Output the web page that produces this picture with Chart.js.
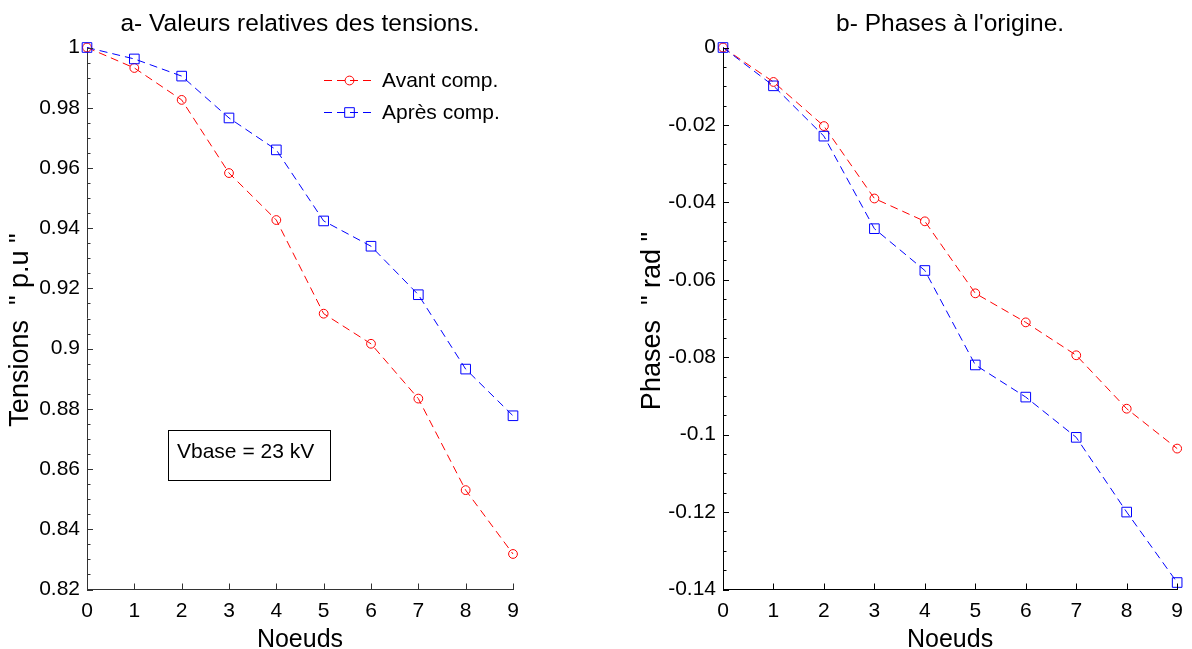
<!DOCTYPE html>
<html>
<head>
<meta charset="utf-8">
<script src="https://cdn.jsdelivr.net/npm/chart.js@4.4.1/dist/chart.umd.min.js"></script>
<style>
  html, body { margin: 0; padding: 0; background: #fff; }
  .wrap { position: absolute; top: 0; width: 596px; height: 649px; }
</style>
</head>
<body>
<div class="wrap" style="left:0"><canvas id="tensions" width="596" height="649"></canvas></div>
<div class="wrap" style="left:596px"><canvas id="phases" width="596" height="649"></canvas></div>
<script>
// node numbers along the feeder
const nodes = [0, 1, 2, 3, 4, 5, 6, 7, 8, 9];
const series_labels = ["Avant comp.", "Après comp."];

// voltage magnitudes (p.u)
const tension_avant = [1.0, 0.9932, 0.9826, 0.9583, 0.9427, 0.9116, 0.9016, 0.8834, 0.853, 0.8318];
const tension_apres = [1.0, 0.9962, 0.9905, 0.9766, 0.966, 0.9424, 0.934, 0.9179, 0.8932, 0.8777];

// voltage phase angles (rad)
const phase_avant = [0, -0.0089, -0.0203, -0.039, -0.0449, -0.0635, -0.071, -0.0795, -0.0933, -0.1036];
const phase_apres = [0, -0.0099, -0.0229, -0.0468, -0.0576, -0.082, -0.0903, -0.1007, -0.12, -0.1382];

const FONT = '"Liberation Sans", Arial, Helvetica, sans-serif';
const RED = "#ff0000";
const BLUE = "#0000ff";
const DASH = [8, 5];

Chart.defaults.font.family = FONT;
Chart.defaults.color = "#000";

const to_points = (ys) => nodes.map((n, i) => ({ x: n, y: ys[i] }));

// hollow marker like the matlab 'o' and 's' styles
const draw_marker = (ctx, style, x, y, color) => {
    ctx.save();
    ctx.setLineDash([]);
    ctx.strokeStyle = color;
    ctx.lineWidth = 1;
    ctx.beginPath();
    if (style === "circle") {
        ctx.arc(x, y, 4.4, 0, Math.PI * 2);
    } else {
        ctx.rect(x - 4.8, y - 4.8, 9.6, 9.6);
    }
    ctx.stroke();
    ctx.restore();
};

// inward ticks, titles, legend and the annotation box
const decor = {
    id: "decor",
    afterDraw(chart, args, opts) {
        const { ctx, chartArea } = chart;
        const xs = chart.scales.x;
        const ys = chart.scales.y;
        ctx.save();
        ctx.strokeStyle = opts.axisColor;
        ctx.lineWidth = 1;
        ctx.beginPath();
        const n = Math.round((opts.yMax - opts.yMin) / opts.minorStep);
        const per = Math.round(opts.yStep / opts.minorStep);
        for (let i = 0; i <= n; i++) {
            const py = Math.round(ys.getPixelForValue(opts.yMin + i * opts.minorStep)) + 0.5;
            const len = i % per === 0 ? 6 : 3.5;
            ctx.moveTo(chartArea.left, py);
            ctx.lineTo(chartArea.left + len, py);
        }
        nodes.forEach((v) => {
            const px = Math.round(xs.getPixelForValue(v)) + 0.5;
            ctx.moveTo(px, chartArea.bottom);
            ctx.lineTo(px, chartArea.bottom - 6);
        });
        ctx.stroke();

        const cx = (chartArea.left + chartArea.right) / 2;
        ctx.fillStyle = "#000";
        ctx.textAlign = "center";
        ctx.textBaseline = "alphabetic";
        ctx.font = "24.5px " + FONT;
        ctx.fillText(opts.title, cx, 31);
        ctx.font = "25px " + FONT;
        ctx.fillText("Noeuds", cx, 647);

        ctx.save();
        ctx.translate(opts.yTitleX, opts.yTitleY);
        ctx.rotate(-Math.PI / 2);
        ctx.font = "27px " + FONT;
        ctx.fillText(opts.yTitle, 0, 0);
        ctx.restore();

        if (opts.legend) {
            chart.data.datasets.forEach((ds, i) => {
                const ly = 80 + 32 * i;
                ctx.save();
                ctx.strokeStyle = ds.borderColor;
                ctx.setLineDash(DASH);
                ctx.beginPath();
                ctx.moveTo(324, ly + 0.5);
                ctx.lineTo(375, ly + 0.5);
                ctx.stroke();
                ctx.restore();
                draw_marker(ctx, ds.pointStyle, 349.5, ly + 0.5, ds.borderColor);
                ctx.fillStyle = "#000";
                ctx.textAlign = "left";
                ctx.textBaseline = "middle";
                ctx.font = "21px " + FONT;
                ctx.fillText(ds.label, 382, ly + 1);
            });
        }

        if (opts.note) {
            ctx.strokeStyle = "#000";
            ctx.strokeRect(168.5, 430.5, 162, 50);
            ctx.fillStyle = "#000";
            ctx.textAlign = "left";
            ctx.textBaseline = "middle";
            ctx.font = "21px " + FONT;
            ctx.fillText(opts.note, 177, 452);
        }
        ctx.restore();
    },
};

const make_chart = (canvas_id, cfg) => {
    const ctx = document.getElementById(canvas_id).getContext("2d");
    const line = (label, ys, color, style, order) => ({
        label,
        data: to_points(ys),
        borderColor: color,
        borderWidth: 1,
        borderDash: DASH,
        tension: 0,
        pointStyle: style,
        pointRadius: style === "rect" ? 6.8 : 4.4,
        pointBorderWidth: 1,
        pointBorderColor: color,
        pointBackgroundColor: "rgba(0,0,0,0)",
        clip: false,
        order,
    });
    return new Chart(ctx, {
        type: "line",
        data: {
            datasets: [
                line(series_labels[0], cfg.avant, RED, "circle", 1),
                line(series_labels[1], cfg.apres, BLUE, "rect", 0),
            ],
        },
        options: {
            responsive: false,
            animation: false,
            devicePixelRatio: 1,
            layout: { padding: { top: 47.5, right: cfg.padRight, bottom: 0, left: 0 } },
            scales: {
                x: {
                    type: "linear",
                    min: 0,
                    max: 9,
                    ticks: { stepSize: 1, padding: 9, font: { size: 21 }, color: "#000" },
                    grid: { display: false, drawTicks: false },
                    border: { color: cfg.axisColor, width: 1 },
                    afterFit: (s) => { s.height = 59.5; },
                },
                y: {
                    type: "linear",
                    min: cfg.yMin,
                    max: cfg.yMax,
                    ticks: {
                        stepSize: cfg.yStep,
                        padding: 7,
                        font: { size: 21 },
                        color: "#000",
                        callback: (v) => String(+v.toFixed(4)),
                    },
                    grid: { display: false, drawTicks: false },
                    border: { color: cfg.axisColor, width: 1 },
                    afterFit: (s) => { s.width = cfg.yWidth; },
                },
            },
            plugins: {
                legend: { display: false },
                tooltip: { enabled: false },
                decor: cfg,
            },
        },
        plugins: [decor],
    });
};

make_chart("tensions", {
    avant: tension_avant,
    apres: tension_apres,
    yMin: 0.82,
    yMax: 1,
    yStep: 0.02,
    minorStep: 0.005,
    yWidth: 87,
    padRight: 83,
    axisColor: "#333",
    title: "a- Valeurs relatives des tensions.",
    yTitle: "Tensions  \" p.u \"",
    yTitleX: 28,
    yTitleY: 330,
    legend: true,
    note: "Vbase = 23 kV",
});

make_chart("phases", {
    avant: phase_avant,
    apres: phase_apres,
    yMin: -0.14,
    yMax: 0,
    yStep: 0.02,
    minorStep: 0.005,
    yWidth: 127,
    padRight: 10,
    axisColor: "#000",
    title: "b- Phases à l'origine.",
    yTitle: "Phases  \" rad \"",
    yTitleX: 64,
    yTitleY: 321,
    legend: false,
    note: null,
});
</script>
</body>
</html>
